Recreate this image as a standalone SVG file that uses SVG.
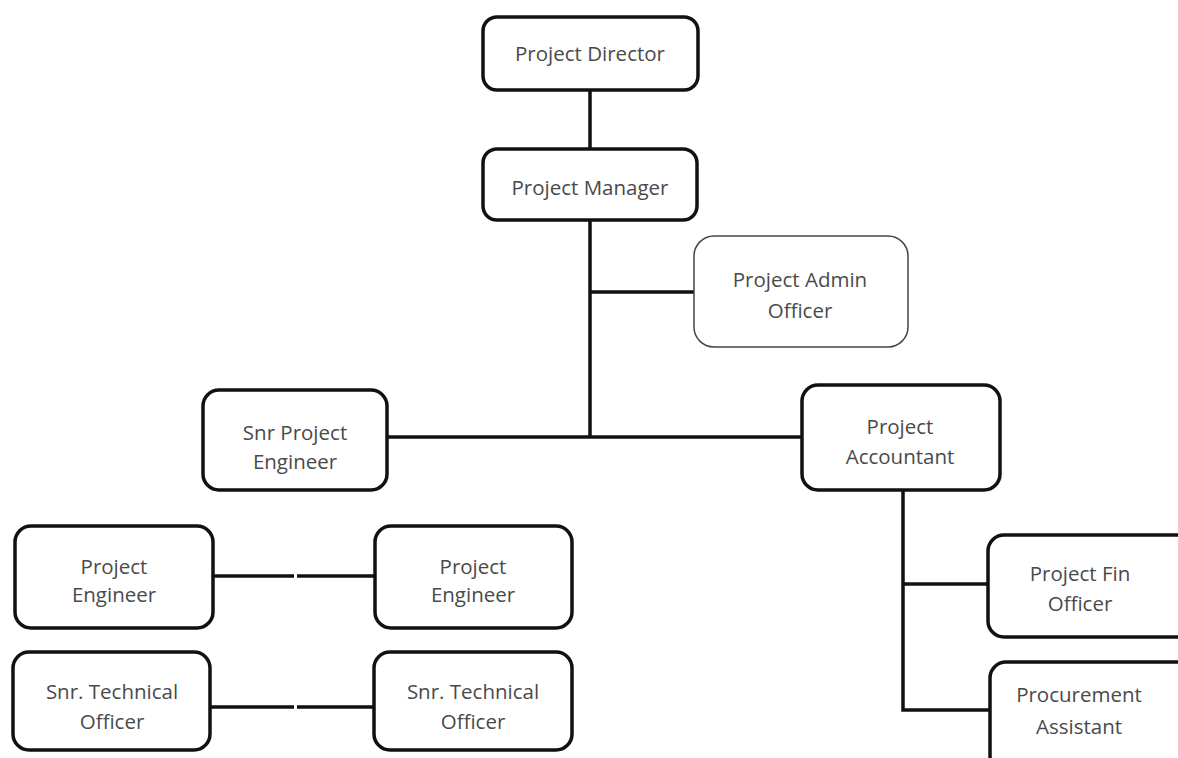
<svg xmlns="http://www.w3.org/2000/svg" width="1178" height="758" viewBox="0 0 1178 758">
<style>
.box{fill:#fff;stroke:#111;stroke-width:3.5}
.thin{fill:#fff;stroke:#444;stroke-width:1.5}
.lbl{font-family:"Open Sans","Liberation Sans",sans-serif;font-size:20.5px;fill:#4a4a4a;text-anchor:middle}
.ln{stroke:#111;stroke-width:3.5;fill:none}
</style>
<rect width="1178" height="758" fill="#fff"/>
<g id="connectors">
<line class="ln" x1="590" y1="90" x2="590" y2="149"/>
<line class="ln" x1="590" y1="220" x2="590" y2="438"/>
<line class="ln" x1="590" y1="292" x2="694" y2="292"/>
<line class="ln" x1="387" y1="437" x2="802" y2="437"/>
<polyline class="ln" points="903,490 903,710 990,710"/>
<line class="ln" x1="903" y1="584" x2="988" y2="584"/>
<line class="ln" x1="213" y1="576" x2="294" y2="576"/>
<line class="ln" x1="297" y1="576" x2="375" y2="576"/>
<line class="ln" x1="210" y1="707" x2="294" y2="707"/>
<line class="ln" x1="297" y1="707" x2="374" y2="707"/>
</g>
<g id="project-director"><rect class="box" x="483" y="17" width="215" height="73" rx="14"/><text class="lbl" x="590" y="61">Project Director</text></g>
<g id="project-manager"><rect class="box" x="483" y="149" width="214" height="71" rx="14"/><text class="lbl" x="590" y="195">Project Manager</text></g>
<g id="project-admin-officer"><rect class="thin" x="694" y="236" width="214" height="111" rx="20"/><text class="lbl" x="800" y="287">Project Admin</text><text class="lbl" x="800" y="318">Officer</text></g>
<g id="snr-project-engineer"><rect class="box" x="203" y="390" width="184" height="100" rx="16"/><text class="lbl" x="295" y="440">Snr Project</text><text class="lbl" x="295" y="469">Engineer</text></g>
<g id="project-accountant"><rect class="box" x="802" y="385" width="198" height="105" rx="16"/><text class="lbl" x="900" y="434">Project</text><text class="lbl" x="900" y="464">Accountant</text></g>
<g id="project-engineer-1"><rect class="box" x="15" y="526" width="198" height="102" rx="16"/><text class="lbl" x="114" y="574">Project</text><text class="lbl" x="114" y="602">Engineer</text></g>
<g id="project-engineer-2"><rect class="box" x="375" y="526" width="197" height="102" rx="16"/><text class="lbl" x="473" y="574">Project</text><text class="lbl" x="473" y="602">Engineer</text></g>
<g id="snr-technical-officer-1"><rect class="box" x="13" y="652" width="197" height="98" rx="16"/><text class="lbl" x="112" y="699">Snr. Technical</text><text class="lbl" x="112" y="729">Officer</text></g>
<g id="snr-technical-officer-2"><rect class="box" x="374" y="652" width="198" height="98" rx="16"/><text class="lbl" x="473" y="699">Snr. Technical</text><text class="lbl" x="473" y="729">Officer</text></g>
<g id="project-fin-officer"><rect class="box" x="988" y="535" width="205" height="102" rx="16"/><text class="lbl" x="1080" y="581">Project Fin</text><text class="lbl" x="1080" y="611">Officer</text></g>
<g id="procurement-assistant"><rect class="box" x="990" y="662" width="205" height="110" rx="16"/><text class="lbl" x="1079" y="702">Procurement</text><text class="lbl" x="1079" y="734">Assistant</text></g>
</svg>
